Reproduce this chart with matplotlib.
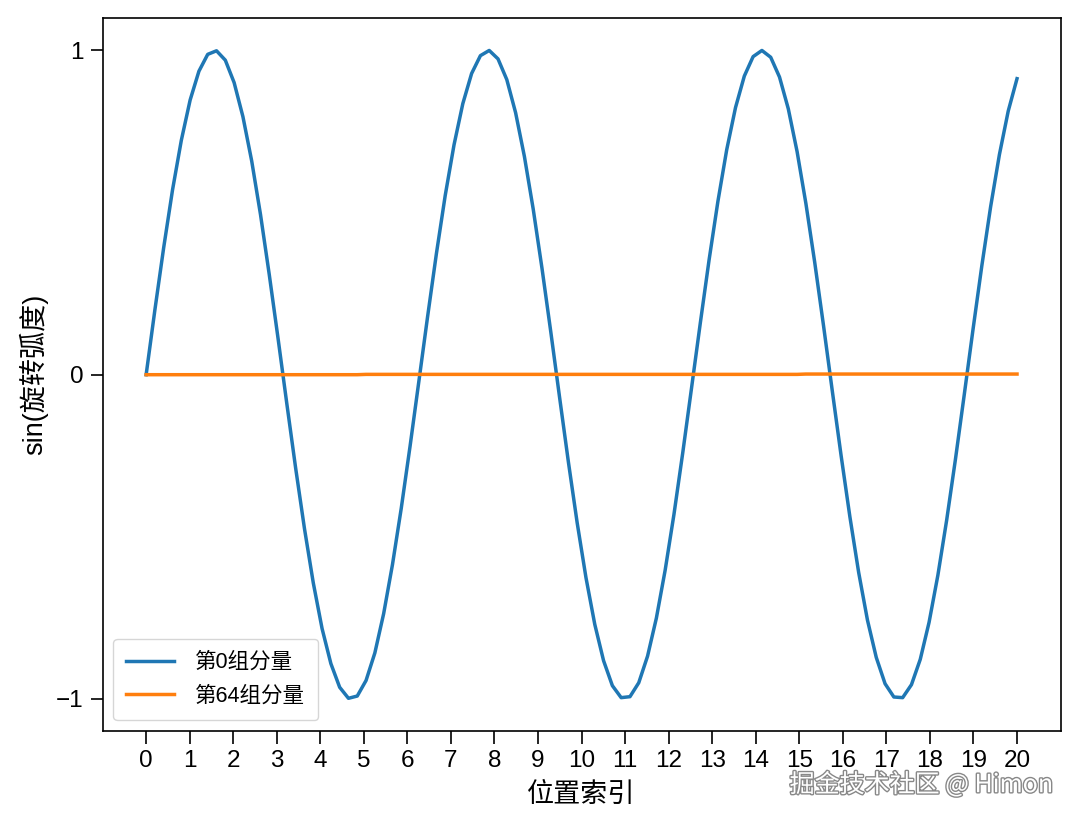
import numpy as np
import matplotlib.pyplot as plt
import matplotlib.patheffects as pe

plt.rcParams['font.family'] = ['Liberation Sans', 'Noto Sans CJK SC', 'DejaVu Sans']
plt.rcParams['axes.unicode_minus'] = True

# --- données ---
positions = np.linspace(0, 20, 100)

comp0 = [
    0.000, 0.201, 0.393, 0.570, 0.723, 0.847, 0.936, 0.988, 0.999, 0.970,
    0.901, 0.796, 0.659, 0.494, 0.308, 0.111, -0.091, -0.289, -0.475, -0.642,
    -0.783, -0.891, -0.964, -0.998, -0.991, -0.943, -0.858, -0.737, -0.586, -0.412,
    -0.221, -0.021, 0.180, 0.374, 0.553, 0.709, 0.836, 0.929, 0.984, 1.000,
    0.974, 0.910, 0.808, 0.673, 0.511, 0.328, 0.132, -0.070, -0.269, -0.457,
    -0.626, -0.770, -0.882, -0.959, -0.996, -0.993, -0.950, -0.868, -0.751, -0.603,
    -0.431, -0.241, -0.041, 0.160, 0.355, 0.535, 0.694, 0.824, 0.921, 0.981,
    1.000, 0.979, 0.918, 0.820, 0.688, 0.528, 0.347, 0.152, -0.050, -0.249,
    -0.438, -0.610, -0.757, -0.872, -0.953, -0.994, -0.996, -0.956, -0.878, -0.764,
    -0.619, -0.449, -0.261, -0.062, 0.140, 0.336, 0.518, 0.679, 0.813, 0.913,
]

comp64 = [
    0.000, 0.000, 0.000, 0.000, 0.000, 0.000, 0.000, 0.000, 0.000, 0.000,
    0.000, 0.000, 0.000, 0.000, 0.000, 0.000, 0.000, 0.000, 0.000, 0.000,
    0.000, 0.000, 0.000, 0.000, 0.000, 0.001, 0.001, 0.001, 0.001, 0.001,
    0.001, 0.001, 0.001, 0.001, 0.001, 0.001, 0.001, 0.001, 0.001, 0.001,
    0.001, 0.001, 0.001, 0.001, 0.001, 0.001, 0.001, 0.001, 0.001, 0.001,
    0.001, 0.001, 0.001, 0.001, 0.001, 0.001, 0.001, 0.001, 0.001, 0.001,
    0.001, 0.001, 0.001, 0.001, 0.001, 0.001, 0.001, 0.001, 0.001, 0.001,
    0.001, 0.001, 0.001, 0.001, 0.001, 0.002, 0.002, 0.002, 0.002, 0.002,
    0.002, 0.002, 0.002, 0.002, 0.002, 0.002, 0.002, 0.002, 0.002, 0.002,
    0.002, 0.002, 0.002, 0.002, 0.002, 0.002, 0.002, 0.002, 0.002, 0.002,
]

xticks = list(range(0, 21))
yticks = [-1, 0, 1]

# --- figure ---
fig, ax = plt.subplots(figsize=(10.8, 8.21), dpi=100)
fig.subplots_adjust(left=0.095, right=0.982, top=0.978, bottom=0.110)

ax.plot(positions, comp0, color='tab:blue', linewidth=2.5, label='第0组分量')
ax.plot(positions, comp64, color='tab:orange', linewidth=2.5, label='第64组分量')

ax.set_xticks(xticks)
ax.set_yticks(yticks)
ax.tick_params(labelsize=17.5, length=9, width=1.2, pad=5)
for s in ax.spines.values():
    s.set_linewidth(1.2)

ax.set_xlabel('位置索引', fontsize=19.5, labelpad=7)
ax.set_ylabel('sin(旋转弧度)', fontsize=19.5, labelpad=5)

ax.legend(loc='lower left', fontsize=15.5, handlelength=2.2, borderpad=0.6,
          labelspacing=0.6, handletextpad=1.0)

# filigrane
fig.text(0.975, 0.044, '掘金技术社区 @ Himon', ha='right', va='center',
         fontsize=18, color='white', family=['Noto Sans CJK SC', 'DejaVu Sans'],
         path_effects=[pe.withStroke(linewidth=2, foreground='#888888')])

plt.savefig('out.png', dpi=100)
